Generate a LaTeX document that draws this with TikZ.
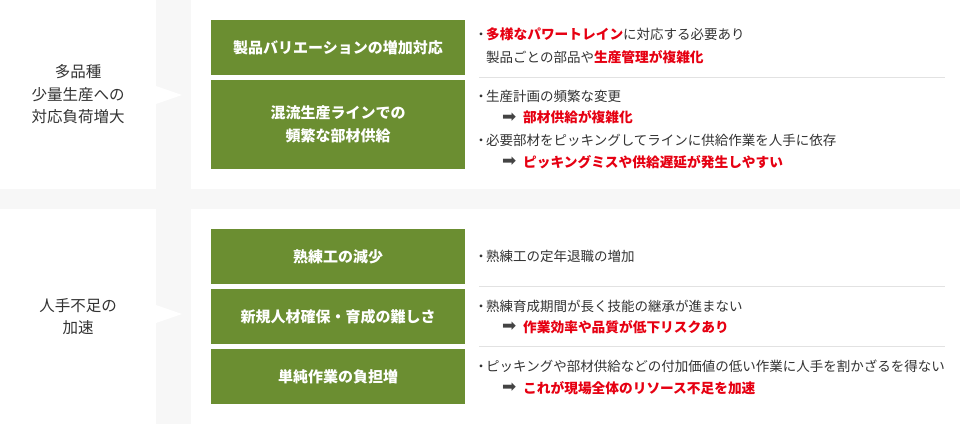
\documentclass[tikz,border=0pt]{standalone}
\usepackage{fontspec}
\setmainfont{Noto Sans CJK JP}
\newfontfamily\symfont{DejaVu Sans}
\definecolor{bggray}{HTML}{F7F7F7}
\definecolor{boxgreen}{HTML}{6B8E31}
\definecolor{textgray}{HTML}{333333}
\definecolor{accred}{HTML}{E60012}
\definecolor{rulegray}{HTML}{E2E2E2}
\definecolor{arrowgray}{HTML}{444444}
\newcommand{\hl}[1]{\textcolor{accred}{\bfseries\fontsize{13.7}{13.7}\selectfont #1}}
\newcommand{\arr}{\textcolor{arrowgray}{\symfont\fontsize{17}{17}\selectfont ➡}}
\newcommand{\bu}{・\kern-1.75pt}
\begin{document}
\begin{tikzpicture}[x=1pt,y=-1pt,
  panel/.style={fill=white,draw=none},
  gbox/.style={fill=boxgreen,draw=none,text=white,align=center,inner sep=0,
    minimum width=254pt,font=\fontsize{15}{22.3}\selectfont\bfseries},
  lefttxt/.style={align=center,inner sep=0,text=textgray,
    font=\fontsize{15.5}{22.5}\selectfont},
  txt/.style={anchor=west,inner sep=0,text=textgray,font=\fontsize{13.5}{13.5}\selectfont},
  rule/.style={draw=rulegray,line width=1pt}]
\useasboundingbox (0,0) rectangle (960,424);
\fill[bggray] (0,0) rectangle (960,424);
% panels
\fill[panel] (0,0) rectangle (156,188.5);
\fill[panel] (191,0) rectangle (960,188.5);
\fill[panel] (0,209) rectangle (156,424);
\fill[panel] (191,209) rectangle (960,424);
% pointers
\fill[white] (156,86) -- (182,95) -- (156,104) -- cycle;
\fill[white] (156,305) -- (182,314) -- (156,323) -- cycle;
% left labels
\node[lefttxt] (l1) at (78,94.3) {多品種\\少量生産への\\対応負荷増大};
\node[lefttxt] (l2) at (78,316.8) {人手不足の\\加速};
% green boxes
\node[gbox,minimum height=55pt] (b1) at (338,47.5) {製品バリエーションの増加対応};
\node[gbox,minimum height=88.7pt] (b2) at (338,124.35) {混流生産ラインでの\\頻繁な部材供給};
\node[gbox,minimum height=54.7pt] (b3) at (338,256.35) {熟練工の減少};
\node[gbox,minimum height=54.7pt] (b4) at (338,316.35) {新規人材確保・育成の難しさ};
\node[gbox,minimum height=54.7pt] (b5) at (338,376.35) {単純作業の負担増};
% separators
\draw[rule] (479,77.3) -- (945,77.3);
\draw[rule] (479,286.3) -- (945,286.3);
\draw[rule] (479,346) -- (945,346);
% text block 1
\node[txt] (t1) at (474.25,34.3) {\bu\hl{多様なパワートレイン}に対応する必要あり};
\node[txt] (t2) at (486,56.7) {製品ごとの部品や\hl{生産管理が複雑化}};
% text block 2
\node[txt] (t3) at (474.25,96.7) {\bu 生産計画の頻繁な変更};
\node[txt] (a1) at (502,117.3) {\arr};
\node[txt] (t4) at (523,117.3) {\hl{部材供給が複雑化}};
\node[txt] (t5) at (474.25,140) {\bu 必要部材をピッキングしてラインに供給作業を人手に依存};
\node[txt] (a2) at (502,161.7) {\arr};
\node[txt] (t6) at (523,161.7) {\hl{ピッキングミスや供給遅延が発生しやすい}};
% text block 3
\node[txt] (t7) at (474.25,256.7) {\bu 熟練工の定年退職の増加};
% text block 4
\node[txt] (t8) at (474.25,306) {\bu 熟練育成期間が長く技能の継承が進まない};
\node[txt] (a3) at (502,326.7) {\arr};
\node[txt] (t9) at (523,326.7) {\hl{作業効率や品質が低下リスクあり}};
% text block 5
\node[txt] (t10) at (474.25,366.7) {\bu ピッキングや部材供給などの付加価値の低い作業に人手を割かざるを得ない};
\node[txt] (a4) at (502,387.7) {\arr};
\node[txt] (t11) at (523,387.7) {\hl{これが現場全体のリソース不足を加速}};
\end{tikzpicture}
\end{document}
